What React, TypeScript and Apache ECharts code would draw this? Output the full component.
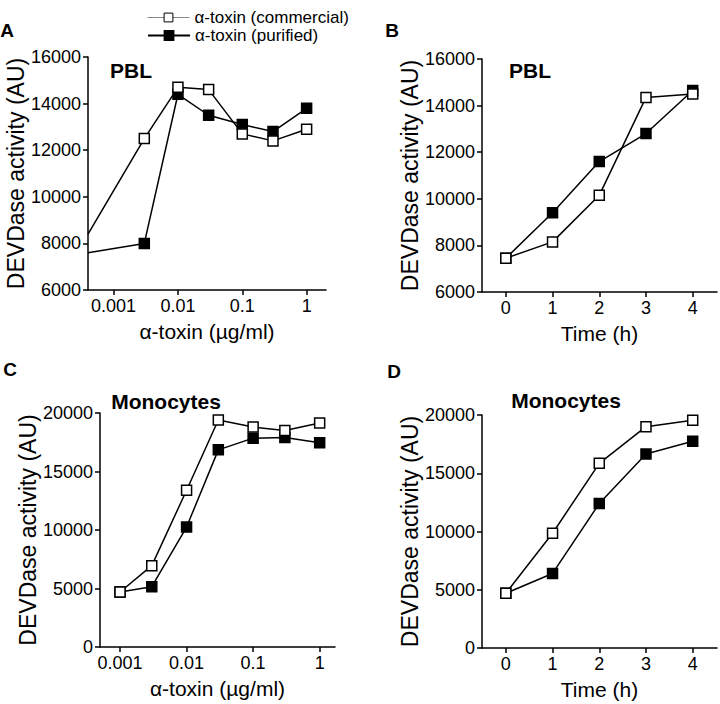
import { useEffect, useRef } from "react";
import * as echarts from "echarts";

// ---- data ----
const seriesNames = ["α-toxin (commercial)", "α-toxin (purified)"];

// Panel A: PBL, dose response (log x)
const doseA = [0.003, 0.01, 0.03, 0.1, 0.3, 1];
const pblDoseCommercial = [12500, 14700, 14600, 12700, 12400, 12900];
const pblDosePurified = [8000, 14400, 13500, 13100, 12800, 13800];
// value where each line enters at the left edge of the log axis (control point off-axis)
const doseAEdge = 0.0004;
const pblDoseEdgeCommercial = 8400;
const pblDoseEdgePurified = 7600;

// Panel B: PBL, time course
const timesH = [0, 1, 2, 3, 4];
const pblTimeCommercial = [7450, 8150, 10150, 14350, 14500];
const pblTimePurified = [7450, 9400, 11600, 12800, 14650];

// Panel C: Monocytes, dose response
const doseC = [0.001, 0.003, 0.01, 0.03, 0.1, 0.3, 1];
const monoDoseCommercial = [4700, 6950, 13400, 19400, 18800, 18500, 19150];
const monoDosePurified = [4700, 5150, 10250, 16850, 17850, 17900, 17450];

// Panel D: Monocytes, time course
const monoTimeCommercial = [4700, 9850, 15850, 19000, 19550];
const monoTimePurified = [4700, 6400, 12400, 16650, 17750];

// tick labels
const doseTicks = [0.001, 0.01, 0.1, 1];
const timeTicks = [0, 1, 2, 3, 4];
const pblYTicks = { min: 6000, max: 16000, interval: 2000 };
const monoYTicks = { min: 0, max: 20000, interval: 5000 };

const FONT = "'Liberation Sans', Arial, Helvetica, sans-serif";
const yTitle = "DEVDase activity (AU)";
const doseTitle = "α-toxin (µg/ml)";
const timeTitle = "Time (h)";

const lineCol = "#000";
const axisLine = { show: true, onZero: false, lineStyle: { color: lineCol, width: 1.5 } };
const axisTick = (custom?: number[]) => ({
  show: true,
  inside: false,
  length: 5,
  lineStyle: { color: lineCol, width: 1.5 },
  ...(custom ? { customValues: custom } : {}),
});
const tickFont = { color: "#000", fontFamily: FONT, fontSize: 18 };
const nameFont = { color: "#000", fontFamily: FONT, fontSize: 21 };
const yNameFont = { color: "#000", fontFamily: FONT, fontSize: 23 };

function fmtDose(v: number) {
  return String(Number(Number(v).toPrecision(1)));
}

function makeX(grid: number, type: "log" | "value", min: number, max: number, ticks: number[], name: string) {
  return {
    gridIndex: grid,
    type,
    ...(type === "log" ? { logBase: 10 } : {}),
    min,
    max,
    axisLine,
    axisTick: axisTick(ticks),
    minorTick: { show: false },
    splitLine: { show: false },
    axisLabel: {
      ...tickFont,
      margin: 7,
      customValues: ticks,
      formatter: (v: number) => (type === "log" ? fmtDose(v) : String(v)),
    },
    name,
    nameLocation: "middle",
    nameGap: 31,
    nameTextStyle: nameFont,
  };
}

function makeY(grid: number, t: { min: number; max: number; interval: number }) {
  return {
    gridIndex: grid,
    type: "value",
    min: t.min,
    max: t.max,
    interval: t.interval,
    axisLine,
    axisTick: axisTick(),
    splitLine: { show: false },
    axisLabel: { ...tickFont, margin: 7, formatter: (v: number) => String(v) },
    name: yTitle,
    nameLocation: "middle",
    nameRotate: 90,
    nameGap: 59,
    nameTextStyle: yNameFont,
  };
}

const openStyle = { color: "#fff", borderColor: "#000", borderWidth: 1.5 };
const filledStyle = { color: "#000", borderColor: "#000", borderWidth: 1.5 };

function line(name: string, idx: number, data: any[], open: boolean) {
  return {
    type: "line",
    name,
    xAxisIndex: idx,
    yAxisIndex: idx,
    data,
    symbol: "rect",
    symbolSize: 10,
    showAllSymbol: true,
    clip: true,
    z: open ? 3 : 2,
    lineStyle: { color: "#000", width: 1.5 },
    itemStyle: open ? openStyle : filledStyle,
  };
}

const zip = (xs: number[], ys: number[]) => xs.map((x, i) => [x, ys[i]]);
const edgePoint = (x: number, y: number) => ({ value: [x, y], symbol: "none" });

const legendBase = {
  orient: "vertical",
  left: 142,
  itemWidth: 42,
  itemHeight: 11,
  itemGap: 0,
  textStyle: { color: "#000", fontFamily: FONT, fontSize: 17, lineHeight: 17 },
};

export default function App() {
  const ref = useRef<HTMLDivElement>(null);
  useEffect(() => {
    document.body.style.margin = "0";
    if (!ref.current) return;
    const chart = echarts.init(ref.current, undefined, { renderer: "svg" });
    const option = {
      animation: false,
      backgroundColor: "#fff",
      textStyle: { fontFamily: FONT },
      legend: [
        {
          ...legendBase,
          top: 4,
          data: [{ name: seriesNames[0], lineStyle: { color: "#888", width: 1 }, itemStyle: { borderWidth: 1 } }],
        },
        {
          ...legendBase,
          top: 22,
          data: [{ name: seriesNames[1] }],
        },
      ],
      grid: [
        { left: 88, top: 57, width: 238, height: 233 },
        { left: 482, top: 59, width: 235, height: 233 },
        { left: 100, top: 413, width: 235, height: 234 },
        { left: 482, top: 415, width: 235, height: 233 },
      ],
      xAxis: [
        makeX(0, "log", doseAEdge, 2, doseTicks, doseTitle),
        makeX(1, "value", -0.51, 4.52, timeTicks, timeTitle),
        makeX(2, "log", 0.0005, 1.7, doseTicks, doseTitle),
        makeX(3, "value", -0.51, 4.52, timeTicks, timeTitle),
      ],
      yAxis: [makeY(0, pblYTicks), makeY(1, pblYTicks), makeY(2, monoYTicks), makeY(3, monoYTicks)],
      series: [
        line(seriesNames[1], 0, [edgePoint(doseAEdge, pblDoseEdgePurified), ...zip(doseA, pblDosePurified)], false),
        line(seriesNames[0], 0, [edgePoint(doseAEdge, pblDoseEdgeCommercial), ...zip(doseA, pblDoseCommercial)], true),
        line(seriesNames[1], 1, zip(timesH, pblTimePurified), false),
        line(seriesNames[0], 1, zip(timesH, pblTimeCommercial), true),
        line(seriesNames[1], 2, zip(doseC, monoDosePurified), false),
        line(seriesNames[0], 2, zip(doseC, monoDoseCommercial), true),
        line(seriesNames[1], 3, zip(timesH, monoTimePurified), false),
        line(seriesNames[0], 3, zip(timesH, monoTimeCommercial), true),
      ],
      graphic: [
        ...[
          ["A", 7, 30],
          ["B", 392, 30],
          ["C", 10, 369],
          ["D", 394, 371],
        ].map(([t, x, y]) => ({
          type: "text",
          x,
          y,
          style: {
            text: t,
            fill: "#000",
            font: `bold 19px ${FONT}`,
            align: "center",
            verticalAlign: "middle",
            textAlign: "center",
            textVerticalAlign: "middle",
          },
        })),
        ...[
          ["PBL", 131, 70],
          ["PBL", 530, 70],
          ["Monocytes", 166, 401],
          ["Monocytes", 566, 400],
        ].map(([t, x, y]) => ({
          type: "text",
          x,
          y,
          style: {
            text: t,
            fill: "#000",
            font: `bold 21px ${FONT}`,
            align: "center",
            verticalAlign: "middle",
            textAlign: "center",
            textVerticalAlign: "middle",
          },
        })),
      ],
    };
    chart.setOption(option as any);
    return () => chart.dispose();
  }, []);
  return <div ref={ref} style={{ width: 720, height: 704 }} />;
}
